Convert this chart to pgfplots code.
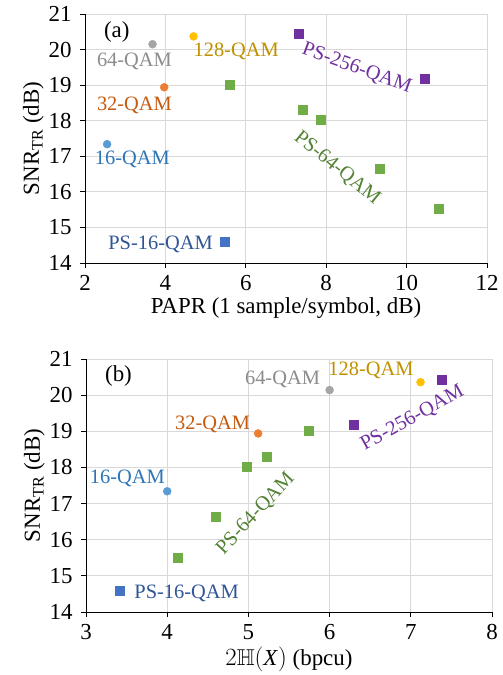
\documentclass[border=0pt]{standalone}
\usepackage{amsmath,amssymb}
\usepackage{fontspec}
\setmainfont{Liberation Serif}
\usepackage{pgfplots}
\pgfplotsset{compat=1.18}

\definecolor{qam16}{HTML}{5B9BD5}
\definecolor{qam32}{HTML}{ED7D31}
\definecolor{qam64}{HTML}{A5A5A5}
\definecolor{qam128}{HTML}{FFC000}
\definecolor{ps16}{HTML}{4472C4}
\definecolor{ps64}{HTML}{70AD47}
\definecolor{ps256}{HTML}{7030A0}
\definecolor{lqam16}{HTML}{2E75B6}
\definecolor{lqam32}{HTML}{C55A11}
\definecolor{lqam64}{HTML}{8C8C8C}
\definecolor{lqam128}{HTML}{BF9000}
\definecolor{lps16}{HTML}{2F5597}
\definecolor{lps64}{HTML}{548235}
\definecolor{lps256}{HTML}{7030A0}

\pgfplotsset{
  snrplot/.style={
    scale only axis,
    anchor=south west,
    font=\fontsize{23}{27}\selectfont,
    /pgf/number format/assume math mode=true,
    axis x line=bottom, axis y line=left,
    axis line style={black, thick, -},
    grid=major, grid style={gray!30, line width=0.8pt},
    tick align=outside, major tick length=5bp,
    tick style={black, thick},
    yticklabel style={xshift=-5bp},
    xticklabel style={yshift=-4bp},
    ymin=14, ymax=21, ytick={14,...,21},
    ylabel={SNR$_{\text{TR}}$ (dB)},
    ylabel style={yshift=-2bp},
    clip=false,
  },
  circ/.style={only marks, mark=*, mark size=4bp, color=#1},
  sq/.style={only marks, mark=square*, mark size=4.5bp, color=#1},
}
\tikzset{lab/.style={font=\fontsize{20.5}{24}\selectfont, text=#1, inner sep=0pt}}

\begin{document}
\begin{tikzpicture}
\useasboundingbox (0,0) rectangle (503bp,675bp);

% (a) SNR vs PAPR
\begin{axis}[snrplot,
  at={(85bp,412bp)}, width=402bp, height=249bp,
  xmin=2, xmax=12, xtick={2,4,...,12},
  xlabel={PAPR (1 sample/symbol, dB)},
]
  \addplot[circ=qam16] coordinates {(2.55,17.34)};
  \addplot[circ=qam32] coordinates {(3.97,18.94)};
  \addplot[circ=qam64] coordinates {(3.68,20.15)};
  \addplot[circ=qam128] coordinates {(4.70,20.37)};
  \addplot[sq=ps16] coordinates {(5.48,14.61)};
  \addplot[sq=ps64] coordinates {(5.59,19.02) (7.41,18.31) (7.86,18.03) (9.34,16.65) (10.79,15.52)};
  \addplot[sq=ps256] coordinates {(7.32,20.44) (10.45,19.19)};

  \node[lab=black, font=\fontsize{23}{27}\selectfont] at (axis cs:2.79,20.5) {(a)};
  \node[lab=lqam64] at (axis cs:3.23,19.66) {64-QAM};
  \node[lab=lqam128] at (axis cs:5.76,19.96) {128-QAM};
  \node[lab=lqam32] at (axis cs:3.23,18.42) {32-QAM};
  \node[lab=lqam16] at (axis cs:3.18,16.90) {16-QAM};
  \node[lab=lps16] at (axis cs:3.88,14.51) {PS-16-QAM};
  \node[lab=lps256, rotate=-20] at (axis cs:8.76,19.47) {PS-256-QAM};
  \node[lab=lps64, rotate=-39] at (axis cs:8.27,16.67) {PS-64-QAM};
\end{axis}

% (b) SNR vs entropy
\begin{axis}[snrplot,
  at={(86bp,63bp)}, width=406bp, height=253bp,
  xmin=3, xmax=8, xtick={3,...,8},
  xlabel={$2\mathbb{H}($\textit{X}$)$ (bpcu)},
]
  \addplot[circ=qam16] coordinates {(4.00,17.34)};
  \addplot[circ=qam32] coordinates {(5.12,18.94)};
  \addplot[circ=qam64] coordinates {(6.00,20.14)};
  \addplot[circ=qam128] coordinates {(7.12,20.36)};
  \addplot[sq=ps16] coordinates {(3.42,14.60)};
  \addplot[sq=ps64] coordinates {(4.13,15.51) (4.60,16.65) (4.98,18.03) (5.23,18.31) (5.74,19.02)};
  \addplot[sq=ps256] coordinates {(6.30,19.19) (7.38,20.44)};

  \node[lab=black, font=\fontsize{23}{27}\selectfont] at (axis cs:3.40,20.52) {(b)};
  \node[lab=lqam64] at (axis cs:5.42,20.43) {64-QAM};
  \node[lab=lqam128] at (axis cs:6.51,20.68) {128-QAM};
  \node[lab=lqam32] at (axis cs:4.56,19.20) {32-QAM};
  \node[lab=lqam16] at (axis cs:3.51,17.70) {16-QAM};
  \node[lab=lps16] at (axis cs:4.24,14.51) {PS-16-QAM};
  \node[lab=lps64, rotate=47] at (axis cs:5.09,16.72) {PS-64-QAM};
  \node[lab=lps256, rotate=29] at (axis cs:7.02,19.36) {PS-256-QAM};
\end{axis}
\end{tikzpicture}
\end{document}
